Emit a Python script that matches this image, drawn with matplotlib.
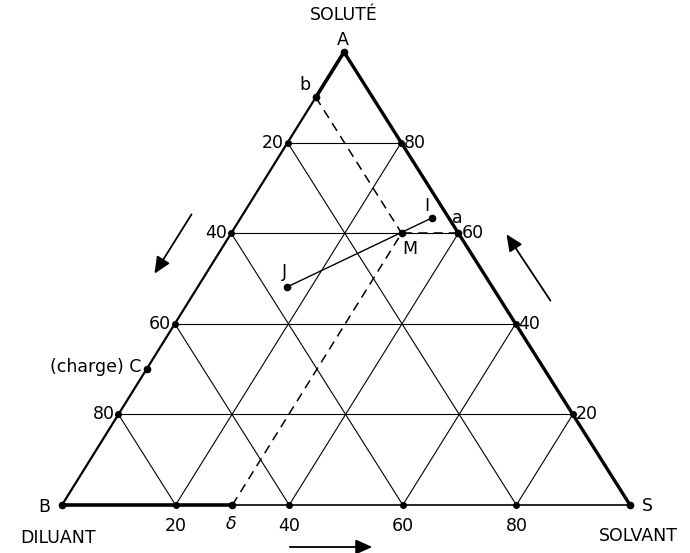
import matplotlib
matplotlib.use('Agg')
import matplotlib.pyplot as plt

# Triangle corners (pixel layout): A = solute, B = diluent, S = solvent
A = (344, 52)
B = (62, 505)
S = (630, 505)

# Graduations (percent)
ticks = [20, 40, 60, 80]

# Compositions as (solute, solvent, diluent) fractions
pt_b = (0.90, 0.00, 0.10)
pt_C = (0.30, 0.00, 0.70)
pt_M = (0.60, 0.30, 0.10)
pt_a = (0.60, 0.40, 0.00)
pt_delta = (0.00, 0.30, 0.70)
pt_I = (0.634, 0.337, 0.029)
pt_J = (0.481, 0.157, 0.362)


def xy(comp):
    a, s, d = comp
    return (a*A[0] + s*S[0] + d*B[0], a*A[1] + s*S[1] + d*B[1])


def seg(ax, p, q, **kw):
    (x0, y0), (x1, y1) = xy(p), xy(q)
    ax.plot([x0, x1], [y0, y1], color='black', solid_capstyle='round', **kw)


fig = plt.figure(figsize=(6.9, 5.53), dpi=100)
ax = fig.add_axes([0, 0, 1, 1])
ax.set_xlim(0, 690)
ax.set_ylim(553, 0)
ax.axis('off')

# grid lines
for t in ticks:
    k = t/100
    seg(ax, (k, 0, 1-k), (k, 1-k, 0), lw=0.8)
    seg(ax, (0, k, 1-k), (1-k, k, 0), lw=0.8)
    seg(ax, (0, 1-k, k), (1-k, 0, k), lw=0.8)

# triangle edges
seg(ax, (1, 0, 0), (0, 0, 1), lw=1.6)
seg(ax, (1, 0, 0), pt_b, lw=2.6)
seg(ax, (1, 0, 0), (0, 1, 0), lw=2.4)
seg(ax, (0, 0, 1), (0, 1, 0), lw=1.2)
seg(ax, (0, 0, 1), pt_delta, lw=2.6)

# construction lines through M
for p in (pt_b, pt_delta, pt_a):
    seg(ax, p, pt_M, lw=1.1, linestyle=(0, (6, 4)))
seg(ax, pt_J, pt_I, lw=1.0)

fs = 12.5
# tick dots and labels
for t in ticks:
    k = t/100
    x, y = xy((1-k, 0, k))
    ax.plot(x, y, 'o', color='black', ms=4)
    ax.text(x-4, y, str(t), ha='right', va='center', fontsize=fs)
    x, y = xy((k, 1-k, 0))
    ax.plot(x, y, 'o', color='black', ms=4)
    ax.text(x+3, y, str(t), ha='left', va='center', fontsize=fs)
    x, y = xy((0, k, 1-k))
    ax.plot(x, y, 'o', color='black', ms=4)
    ax.text(x, y+21, str(t), ha='center', va='center', fontsize=fs)

# named points
for p in (pt_b, pt_C, pt_M, pt_a, pt_delta, pt_I, pt_J, (1, 0, 0), (0, 0, 1), (0, 1, 0)):
    x, y = xy(p)
    ax.plot(x, y, 'o', color='black', ms=4.5)

def lab(p, dx, dy, s, ha='center', **kw):
    x, y = xy(p)
    ax.text(x+dx, y+dy, s, ha=ha, va='center', fontsize=fs, **kw)

lab((1, 0, 0), -1, -12, 'A')
lab((1, 0, 0), 0, -37, 'SOLUTÉ')
lab((0, 0, 1), -18, 2, 'B')
lab((0, 0, 1), -4, 33, 'DILUANT')
lab((0, 1, 0), 17, 1, 'S')
lab((0, 1, 0), 8, 31, 'SOLVANT')
lab(pt_b, -11, -12, 'b')
lab(pt_C, -5, -2, '(charge) C', ha='right')
lab(pt_M, 1, 16, 'M', ha='left')
lab(pt_a, -1, -15, 'a')
lab(pt_I, -5, -12, 'I')
lab(pt_J, -2, -15, 'J')
lab(pt_delta, -1, 19, 'δ', style='italic')

# reading direction arrows
arrow = dict(arrowstyle='-|>,head_length=1.0,head_width=0.45', color='black', lw=1.3)
ax.annotate('', xy=(153, 276), xytext=(193, 212), arrowprops=arrow)
ax.annotate('', xy=(505, 232), xytext=(552, 303), arrowprops=arrow)
ax.annotate('', xy=(375, 547), xytext=(287, 547), arrowprops=arrow)

fig.savefig('out.png', dpi=100, facecolor='white')
